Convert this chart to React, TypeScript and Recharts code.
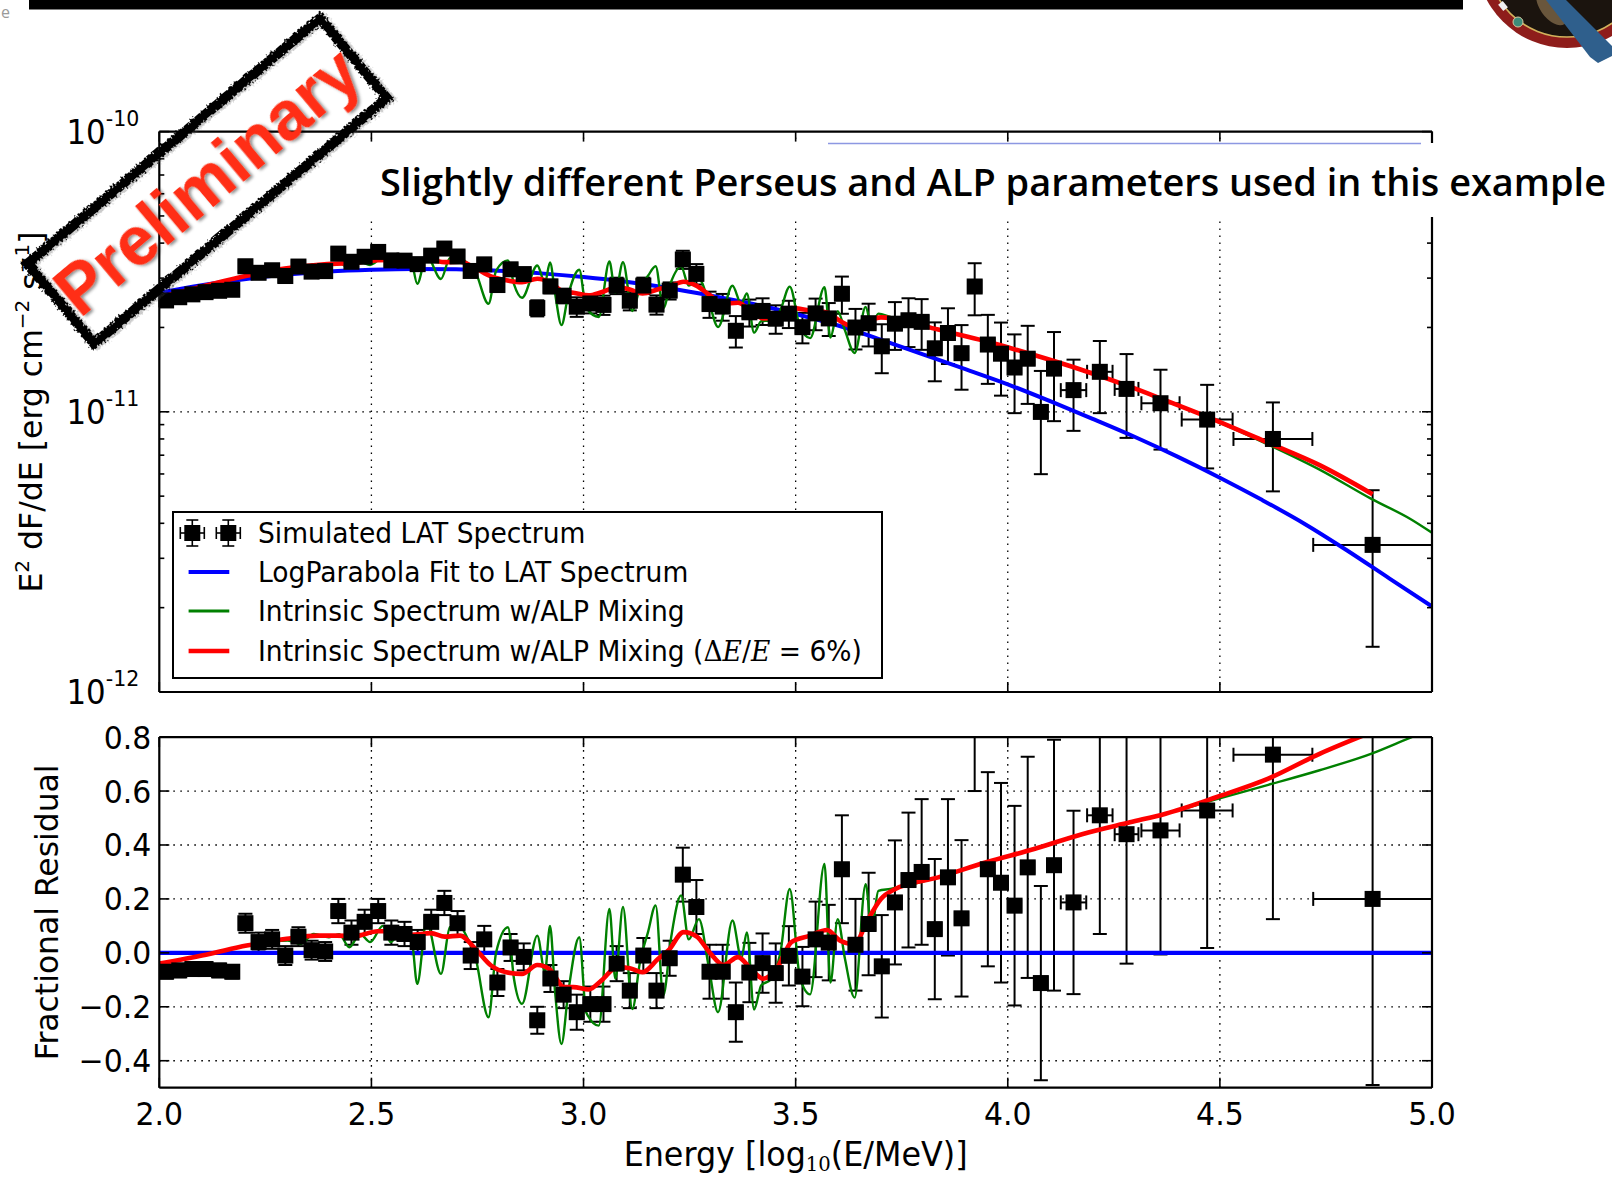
import React from 'react';
import {
  ComposedChart,
  Line,
  Scatter,
  XAxis,
  YAxis,
  ErrorBar,
  ReferenceLine,
  Legend,
} from 'recharts';

// ---------------------------------------------------------------------------
// Simulated LAT spectrum: bin centres in log10(E/MeV), half widths,
// E^2 dF/dE in units of 1e-11 erg cm^-2 s^-1 and fractional residuals.
// ---------------------------------------------------------------------------
const binEnergy = [
  2.016, 2.047, 2.078, 2.109, 2.141, 2.172, 2.203, 2.234, 2.266, 2.297,
  2.328, 2.359, 2.391, 2.422, 2.453, 2.484, 2.516, 2.547, 2.578, 2.609,
  2.641, 2.672, 2.703, 2.734, 2.766, 2.797, 2.828, 2.859, 2.891, 2.922,
  2.953, 2.984, 3.016, 3.047, 3.078, 3.109, 3.141, 3.172, 3.203, 3.234,
  3.266, 3.297, 3.328, 3.359, 3.391, 3.422, 3.453, 3.484, 3.516, 3.547,
  3.578, 3.609, 3.641, 3.672, 3.703, 3.734, 3.766, 3.797, 3.828, 3.859,
  3.891, 3.922, 3.953, 3.984, 4.016, 4.047, 4.078, 4.109, 4.155, 4.217,
  4.28, 4.36, 4.47, 4.625, 4.86,
];

const binHalfWidth = [
  0.0156, 0.0156, 0.0156, 0.0156, 0.0156, 0.0156, 0.0156, 0.0156, 0.0156, 0.0156,
  0.0156, 0.0156, 0.0156, 0.0156, 0.0156, 0.0156, 0.0156, 0.0156, 0.0156, 0.0156,
  0.0156, 0.0156, 0.0156, 0.0156, 0.0156, 0.0156, 0.0156, 0.0156, 0.0156, 0.0156,
  0.0156, 0.0156, 0.0156, 0.0156, 0.0156, 0.0156, 0.0156, 0.0156, 0.0156, 0.0156,
  0.0156, 0.0156, 0.0156, 0.0156, 0.0156, 0.0156, 0.0156, 0.0156, 0.0156, 0.0156,
  0.0156, 0.0156, 0.0156, 0.0156, 0.0156, 0.0156, 0.0156, 0.0156, 0.0156, 0.0156,
  0.0156, 0.0156, 0.0156, 0.0156, 0.0156, 0.0156, 0.0156, 0.0156, 0.03, 0.03,
  0.028, 0.045, 0.06, 0.093, 0.14,
];

const binFlux = [
  2.497, 2.564, 2.625, 2.673, 2.703, 2.726, 3.307, 3.134, 3.2, 3.052,
  3.299, 3.164, 3.178, 3.669, 3.431, 3.575, 3.72, 3.47, 3.463, 3.365,
  3.608, 3.825, 3.583, 3.182, 3.359, 2.834, 3.225, 3.101, 2.345, 2.803,
  2.593, 2.372, 2.435, 2.407, 2.82, 2.491, 2.822, 2.412, 2.706, 3.496,
  3.106, 2.424, 2.374, 1.946, 2.265, 2.291, 2.149, 2.24, 2.005, 2.245,
  2.154, 2.638, 1.999, 2.071, 1.713, 2.063, 2.122, 2.094, 1.685, 1.911,
  1.619, 2.8, 1.738, 1.612, 1.439, 1.547, 0.999, 1.426, 1.195, 1.389,
  1.207, 1.073, 0.938, 0.8, 0.335,
];

const binFluxErr = [
  0.07, 0.07, 0.07, 0.07, 0.07, 0.07, 0.105, 0.105, 0.105, 0.11,
  0.11, 0.11, 0.11, 0.145, 0.145, 0.145, 0.145, 0.145, 0.145, 0.145,
  0.145, 0.145, 0.145, 0.155, 0.155, 0.155, 0.155, 0.155, 0.155, 0.155,
  0.155, 0.19, 0.19, 0.19, 0.19, 0.19, 0.19, 0.19, 0.19, 0.26,
  0.26, 0.26, 0.26, 0.25, 0.25, 0.25, 0.25, 0.25, 0.25, 0.29,
  0.29, 0.4, 0.33, 0.36, 0.34, 0.4, 0.42, 0.43, 0.4, 0.43,
  0.42, 0.59, 0.48, 0.47, 0.45, 0.48, 0.4, 0.5, 0.34, 0.4,
  0.4, 0.34, 0.31, 0.28, 0.19,
];

const binResidual = [
  -0.07, -0.065, -0.06, -0.06, -0.065, -0.07, 0.11, 0.04, 0.05, -0.01,
  0.06, 0.01, 0.005, 0.155, 0.075, 0.115, 0.155, 0.075, 0.07, 0.04,
  0.115, 0.185, 0.11, -0.01, 0.05, -0.11, 0.02, -0.015, -0.25, -0.095,
  -0.155, -0.22, -0.19, -0.19, -0.04, -0.14, -0.01, -0.14, -0.02, 0.29,
  0.17, -0.07, -0.07, -0.22, -0.073, -0.038, -0.075, -0.011, -0.088, 0.05,
  0.038, 0.31, 0.03, 0.107, -0.05, 0.187, 0.27, 0.3, 0.088, 0.28,
  0.128, 1.03, 0.31, 0.26, 0.175, 0.317, -0.112, 0.325, 0.187, 0.51,
  0.44, 0.454, 0.528, 0.735, 0.2,
];

const binResidualErr = [
  0.025, 0.025, 0.025, 0.025, 0.025, 0.025, 0.035, 0.035, 0.035, 0.035,
  0.035, 0.035, 0.035, 0.045, 0.045, 0.045, 0.045, 0.045, 0.045, 0.045,
  0.045, 0.045, 0.045, 0.05, 0.05, 0.05, 0.05, 0.05, 0.05, 0.05,
  0.05, 0.065, 0.065, 0.065, 0.065, 0.065, 0.065, 0.065, 0.065, 0.1,
  0.1, 0.1, 0.1, 0.11, 0.11, 0.11, 0.11, 0.11, 0.11, 0.14,
  0.14, 0.2, 0.17, 0.19, 0.19, 0.23, 0.25, 0.27, 0.26, 0.29,
  0.29, 0.43, 0.36, 0.37, 0.37, 0.41, 0.36, 0.465, 0.34, 0.44,
  0.48, 0.46, 0.51, 0.61, 0.69,
];

// LogParabola fit to the LAT spectrum
const fitEnergy = [
  2.0, 2.1, 2.2, 2.3, 2.4, 2.5, 2.6, 2.7, 2.8, 2.9, 3.0,
  3.1, 3.2, 3.3, 3.4, 3.5, 3.6, 3.7, 3.8, 3.9, 4.0,
  4.1, 4.2, 4.3, 4.4, 4.5, 4.6, 4.7, 4.8, 4.9, 5.0,
];
const fitFlux = [
  2.661, 2.831, 2.972, 3.09, 3.17, 3.214, 3.236, 3.228, 3.184, 3.119, 3.027,
  2.911, 2.767, 2.6, 2.427, 2.234, 2.032, 1.811, 1.603, 1.419, 1.253,
  1.091, 0.944, 0.813, 0.692, 0.582, 0.484, 0.398, 0.32, 0.254, 0.202,
];
const fitResidualEnergy = [2.0, 5.0];
const fitResidual = [0, 0];

// Intrinsic spectrum with ALP mixing
const alpEnergy = [
  2.0, 2.1, 2.2, 2.303, 2.333, 2.364, 2.4, 2.424, 2.448, 2.473,
  2.497, 2.527, 2.545, 2.57, 2.594, 2.608, 2.63, 2.664, 2.685, 2.707,
  2.727, 2.745, 2.776, 2.794, 2.822, 2.836, 2.855, 2.891, 2.909, 2.921,
  2.933, 2.948, 2.964, 2.99, 3.006, 3.036, 3.061, 3.075, 3.093, 3.115,
  3.133, 3.152, 3.17, 3.188, 3.206, 3.23, 3.248, 3.272, 3.295, 3.317,
  3.351, 3.372, 3.385, 3.402, 3.419, 3.441, 3.464, 3.486, 3.51, 3.534,
  3.568, 3.582, 3.599, 3.616, 3.639, 3.665, 3.679, 3.695, 3.723, 3.75,
  3.836, 3.949, 4.062, 4.175, 4.288, 4.372, 4.493, 4.614, 4.735, 4.856,
  4.952, 5.0,
];
const alpFlux = [
  2.555, 2.803, 3.046, 3.234, 3.22, 3.362, 3.354, 3.4, 3.258, 3.426,
  3.342, 3.542, 3.353, 3.478, 3.423, 2.864, 3.605, 2.98, 3.536, 3.55,
  3.383, 3.157, 2.431, 3.193, 3.471, 2.858, 2.553, 3.326, 2.888, 3.411,
  2.64, 2.038, 2.616, 3.215, 2.356, 2.18, 3.44, 2.66, 3.416, 2.29,
  2.766, 3.057, 3.307, 2.344, 2.899, 3.297, 2.822, 2.979, 2.479, 2.007,
  2.817, 2.429, 2.644, 1.916, 2.106, 2.116, 2.308, 2.798, 2.014, 1.832,
  2.786, 1.84, 2.288, 1.957, 1.622, 2.367, 2.023, 2.241, 2.18, 2.124,
  1.965, 1.786, 1.594, 1.41, 1.229, 1.098, 0.925, 0.764, 0.622, 0.49,
  0.412, 0.37,
];
const alpResidual = [
  -0.04, -0.01, 0.025, 0.046, 0.033, 0.07, 0.058, 0.069, 0.021, 0.07,
  0.04, 0.1, 0.04, 0.077, 0.058, -0.115, 0.114, -0.078, 0.095, 0.1,
  0.052, -0.016, -0.239, 0.002, 0.095, -0.096, -0.189, 0.064, -0.072, 0.1,
  -0.146, -0.338, -0.146, 0.058, -0.22, -0.27, 0.163, -0.096, 0.17, -0.208,
  -0.035, 0.077, 0.176, -0.158, 0.052, 0.213, 0.05, 0.125, -0.05, -0.22,
  0.12, -0.02, 0.076, -0.21, -0.12, -0.1, 0.0, 0.237, -0.09, -0.154,
  0.33, -0.11, 0.125, -0.02, -0.166, 0.255, 0.09, 0.23, 0.237, 0.245,
  0.28, 0.336, 0.385, 0.44, 0.484, 0.516, 0.57, 0.623, 0.677, 0.738,
  0.8, 0.83,
];

// Same model folded with a 6% energy resolution
const smearedEnergy = [
  2.0, 2.11, 2.206, 2.3, 2.376, 2.418, 2.46, 2.515, 2.545, 2.594,
  2.64, 2.673, 2.709, 2.745, 2.782, 2.818, 2.855, 2.891, 2.921, 2.954,
  2.976, 3.012, 3.042, 3.079, 3.109, 3.139, 3.176, 3.2, 3.236, 3.267,
  3.297, 3.33, 3.364, 3.394, 3.424, 3.455, 3.49, 3.532, 3.574, 3.605,
  3.639, 3.667, 3.701, 3.735, 3.836, 3.949, 4.062, 4.175, 4.288, 4.372,
  4.493, 4.614, 4.735, 4.86,
];
const smearedFlux = [
  2.555, 2.824, 3.059, 3.251, 3.349, 3.38, 3.397, 3.479, 3.486, 3.453,
  3.472, 3.422, 3.435, 3.254, 3.042, 2.948, 2.902, 2.985, 2.905, 2.679,
  2.661, 2.603, 2.672, 2.782, 2.732, 2.646, 2.737, 2.792, 2.912, 2.814,
  2.611, 2.432, 2.449, 2.294, 2.153, 2.18, 2.344, 2.305, 2.261, 2.109,
  2.007, 2.097, 2.173, 2.145, 1.965, 1.786, 1.594, 1.41, 1.229, 1.098,
  0.929, 0.775, 0.645, 0.508,
];
const smearedResidual = [
  -0.04, -0.007, 0.027, 0.052, 0.064, 0.064, 0.062, 0.08, 0.08, 0.067,
  0.073, 0.06, 0.064, 0.015, -0.047, -0.072, -0.078, -0.045, -0.062, -0.127,
  -0.127, -0.136, -0.103, -0.053, -0.057, -0.072, -0.022, 0.009, 0.077, 0.06,
  0.002, -0.045, -0.016, -0.059, -0.096, -0.059, 0.04, 0.063, 0.085, 0.045,
  0.032, 0.113, 0.2, 0.237, 0.28, 0.336, 0.385, 0.44, 0.484, 0.516,
  0.578, 0.646, 0.738, 0.82,
];

// Axis ticks and labels
const energyTicks = [2.0, 2.5, 3.0, 3.5, 4.0, 4.5, 5.0];
const energyGrid = [2.5, 3.0, 3.5, 4.0, 4.5];
const fluxMajorTicks = [0.1, 1, 10];
const fluxExponents = ['-12', '-11', '-10'];
const fluxMinorTicks = [0.2, 0.3, 0.4, 0.5, 0.6, 0.7, 0.8, 0.9, 2, 3, 4, 5, 6, 7, 8, 9];
const fluxGrid = [1];
const residualTicks = [-0.4, -0.2, 0.0, 0.2, 0.4, 0.6, 0.8];
const residualGrid = [-0.4, -0.2, 0.0, 0.2, 0.4, 0.6];

const legendLabels = [
  'Simulated LAT Spectrum',
  'LogParabola Fit to LAT Spectrum',
  'Intrinsic Spectrum w/ALP Mixing',
  'Intrinsic Spectrum w/ALP Mixing (',
];

// ---------------------------------------------------------------------------
// tables built from the arrays above
// ---------------------------------------------------------------------------
const toSeries = (xs: number[], ys: number[]) => xs.map((x, i) => ({ x, y: ys[i] }));

const spectrumPoints = binEnergy.map((x, i) => ({
  x,
  y: binFlux[i],
  yErr: binFluxErr[i],
  xErr: binHalfWidth[i],
}));
const residualPoints = binEnergy.map((x, i) => ({
  x,
  y: binResidual[i],
  yErr: binResidualErr[i],
  xErr: binHalfWidth[i],
}));

const fitSeries = toSeries(fitEnergy, fitFlux);
const fitResidualSeries = toSeries(fitResidualEnergy, fitResidual);
const alpSeries = toSeries(alpEnergy, alpFlux);
const alpResidualSeries = toSeries(alpEnergy, alpResidual);
const smearedSeries = toSeries(smearedEnergy, smearedFlux);
const smearedResidualSeries = toSeries(smearedEnergy, smearedResidual);

const fluxTicks = [...fluxMajorTicks, ...fluxMinorTicks].sort((a, b) => a - b);

// ---------------------------------------------------------------------------
// styling and frame geometry
// ---------------------------------------------------------------------------
const SANS = '"DejaVu Sans", "Bitstream Vera Sans", sans-serif';
const SERIF = '"DejaVu Serif", serif';
const SX = 0.935; // figure text is slightly narrower than its height suggests
const BLUE = '#0000ff';
const GREEN = '#008000';
const RED = '#ff0000';
const AXIS_LINE = { stroke: '#000', strokeWidth: 2.2 };
const TICK_W = 1.6;
const GRID_DASH = '1.6 5.4';

const PLOT_LEFT = 159.3;
const PLOT_RIGHT = 1432;
const PLOT_RIGHT_GAP = 1612 - PLOT_RIGHT;
const LEFT_AXIS_W = 60;
const RIGHT_AXIS_W = 10;
const TOP_AXIS_H = 10;
const BOTTOM_AXIS_H = 20;

// residual panel plot box, in its own chart coordinates
const RES_TOP = 37.1; // page y 737.1
const RES_BOTTOM = 387.7; // page y 1087.7
const RES_CLIP = 'url(#residualPlotArea)';

const fmtResidual = (v: number) => (v < -1e-9 ? '\u2212' : '') + Math.abs(v).toFixed(1);

// ---------------------------------------------------------------------------
// axis ticks (inward ticks on all four sides)
// ---------------------------------------------------------------------------
function BottomTick(p: any) {
  const { x, y, payload, withLabel } = p;
  return (
    <g>
      <line x1={x} y1={y} x2={x} y2={y - 10} stroke="#000" strokeWidth={TICK_W} />
      {withLabel ? (
        <text
          transform={`translate(${x},${y + 37}) scale(${SX},1)`}
          textAnchor="middle"
          fontFamily={SANS}
          fontSize={32}
          fill="#000"
        >
          {Number(payload.value).toFixed(1)}
        </text>
      ) : null}
    </g>
  );
}

function TopTick(p: any) {
  const { x, y } = p;
  return <line x1={x} y1={y} x2={x} y2={y + 10} stroke="#000" strokeWidth={TICK_W} />;
}

function LeftLogTick(p: any) {
  const { x, y, payload } = p;
  const idx = fluxMajorTicks.indexOf(payload.value);
  const major = idx >= 0;
  return (
    <g>
      <line x1={x} y1={y} x2={x + (major ? 10 : 5)} y2={y} stroke="#000" strokeWidth={TICK_W} />
      {major ? (
        <text
          transform={`translate(${x - 20},${y + 12}) scale(${SX},1)`}
          textAnchor="end"
          fontFamily={SANS}
          fontSize={33}
          fill="#000"
        >
          10
          <tspan dy={-17.7} fontSize={22}>
            {fluxExponents[idx]}
          </tspan>
        </text>
      ) : null}
    </g>
  );
}

function RightLogTick(p: any) {
  const { x, y, payload } = p;
  const major = fluxMajorTicks.indexOf(payload.value) >= 0;
  return <line x1={x} y1={y} x2={x - (major ? 10 : 5)} y2={y} stroke="#000" strokeWidth={TICK_W} />;
}

function LeftResidualTick(p: any) {
  const { x, y, payload } = p;
  return (
    <g>
      <line x1={x} y1={y} x2={x + 10} y2={y} stroke="#000" strokeWidth={TICK_W} />
      <text
        transform={`translate(${x - 8},${y + 11.5}) scale(${SX},1)`}
        textAnchor="end"
        fontFamily={SANS}
        fontSize={32}
        fill="#000"
      >
        {fmtResidual(Number(payload.value))}
      </text>
    </g>
  );
}

function RightResidualTick(p: any) {
  const { x, y } = p;
  return <line x1={x} y1={y} x2={x - 10} y2={y} stroke="#000" strokeWidth={TICK_W} />;
}

const squareMarker = (p: any) => (
  <rect x={p.cx - 8} y={p.cy - 8} width={16} height={16} fill="#000" />
);
const clippedSquareMarker = (p: any) => (
  <rect x={p.cx - 8} y={p.cy - 8} width={16} height={16} fill="#000" clipPath={RES_CLIP} />
);

// ---------------------------------------------------------------------------
// legend box
// ---------------------------------------------------------------------------
function LegendMarker({ cx, cy }: { cx: number; cy: number }) {
  return (
    <g stroke="#000" strokeWidth={1.6}>
      <line x1={cx} y1={cy - 13} x2={cx} y2={cy + 13} />
      <line x1={cx - 6} y1={cy - 13} x2={cx + 6} y2={cy - 13} />
      <line x1={cx - 6} y1={cy + 13} x2={cx + 6} y2={cy + 13} />
      <line x1={cx - 12} y1={cy} x2={cx + 12} y2={cy} />
      <line x1={cx - 12} y1={cy - 6} x2={cx - 12} y2={cy + 6} />
      <line x1={cx + 12} y1={cy - 6} x2={cx + 12} y2={cy + 6} />
      <rect x={cx - 8} y={cy - 8} width={16} height={16} fill="#000" stroke="none" />
    </g>
  );
}

function LegendText({ y, children }: { y: number; children: React.ReactNode }) {
  return (
    <text
      transform={`translate(86,${y + 10}) scale(${SX},1)`}
      fontFamily={SANS}
      fontSize={28.4}
      fill="#000"
    >
      {children}
    </text>
  );
}

function LegendBox() {
  const rows = [22, 61, 100, 140];
  return (
    <svg width={711} height={168} style={{ display: 'block', overflow: 'visible' }}>
      <rect x={1} y={1} width={709} height={166} fill="#fff" stroke="#000" strokeWidth={2} />
      <LegendMarker cx={20.3} cy={rows[0]} />
      <LegendMarker cx={56.3} cy={rows[0]} />
      <line x1={16.6} y1={rows[1]} x2={57.3} y2={rows[1]} stroke={BLUE} strokeWidth={4} />
      <line x1={16.6} y1={rows[2]} x2={57.3} y2={rows[2]} stroke={GREEN} strokeWidth={3} />
      <line x1={16.6} y1={rows[3]} x2={57.3} y2={rows[3]} stroke={RED} strokeWidth={4.5} />
      <LegendText y={rows[0]}>{legendLabels[0]}</LegendText>
      <LegendText y={rows[1]}>{legendLabels[1]}</LegendText>
      <LegendText y={rows[2]}>{legendLabels[2]}</LegendText>
      <LegendText y={rows[3]}>
        {legendLabels[3]}
        <tspan fontFamily={SERIF}>{'\u0394'}</tspan>
        <tspan fontFamily={SERIF} fontStyle="italic">E</tspan>
        <tspan fontFamily={SERIF}>/</tspan>
        <tspan fontFamily={SERIF} fontStyle="italic">E</tspan>
        {' = 6%)'}
      </LegendText>
    </svg>
  );
}

// shared axis props for the energy axes of both panels
const energyAxisProps = {
  dataKey: 'x',
  type: 'number' as const,
  domain: [2, 5],
  ticks: energyTicks,
  interval: 0,
  allowDataOverflow: true,
  tickSize: 0,
  tickMargin: 0,
  tickLine: false,
  axisLine: AXIS_LINE,
};

// ---------------------------------------------------------------------------
// upper panel: E^2 dF/dE
// ---------------------------------------------------------------------------
function SpectrumPanel() {
  const plotTop = 131.6;
  const plotBottom = 692;
  const height = 720;
  const fluxAxisProps = {
    type: 'number' as const,
    scale: 'log' as const,
    domain: [0.1, 10],
    ticks: fluxTicks,
    interval: 0,
    allowDataOverflow: true,
    tickSize: 0,
    tickMargin: 0,
    tickLine: false,
    axisLine: AXIS_LINE,
  };
  return (
    <ComposedChart
      width={1612}
      height={height}
      margin={{
        top: plotTop - TOP_AXIS_H,
        right: PLOT_RIGHT_GAP - RIGHT_AXIS_W,
        bottom: height - plotBottom - BOTTOM_AXIS_H,
        left: PLOT_LEFT - LEFT_AXIS_W,
      }}
    >
      <XAxis {...energyAxisProps} height={BOTTOM_AXIS_H} tick={(p: any) => <BottomTick {...p} withLabel={false} />} />
      <XAxis {...energyAxisProps} xAxisId="top" orientation="top" height={TOP_AXIS_H} tick={(p: any) => <TopTick {...p} />} />
      <YAxis {...fluxAxisProps} dataKey="y" width={LEFT_AXIS_W} tick={(p: any) => <LeftLogTick {...p} />} />
      <YAxis {...fluxAxisProps} yAxisId="right" orientation="right" width={RIGHT_AXIS_W} tick={(p: any) => <RightLogTick {...p} />} />
      {energyGrid.map((v) => (
        <ReferenceLine key={`gx${v}`} x={v} stroke="#000" strokeWidth={1.3} strokeDasharray={GRID_DASH} />
      ))}
      {fluxGrid.map((v) => (
        <ReferenceLine key={`gy${v}`} y={v} stroke="#000" strokeWidth={1.3} strokeDasharray={GRID_DASH} />
      ))}
      <Scatter data={spectrumPoints} dataKey="y" shape={squareMarker} isAnimationActive={false}>
        <ErrorBar dataKey="yErr" direction="y" width={7} stroke="#000" strokeWidth={2} isAnimationActive={false} />
        <ErrorBar dataKey="xErr" direction="x" width={7} stroke="#000" strokeWidth={2} isAnimationActive={false} />
      </Scatter>
      <Line data={fitSeries} dataKey="y" type="monotone" stroke={BLUE} strokeWidth={4} dot={false} activeDot={false} isAnimationActive={false} />
      <Line data={alpSeries} dataKey="y" type="monotone" stroke={GREEN} strokeWidth={2.4} dot={false} activeDot={false} isAnimationActive={false} />
      <Line data={smearedSeries} dataKey="y" type="monotone" stroke={RED} strokeWidth={4.6} dot={false} activeDot={false} isAnimationActive={false} />
      <Legend
        layout="vertical"
        align="center"
        verticalAlign="middle"
        wrapperStyle={{ left: 171.7, top: 511, width: 711, height: 168 }}
        content={() => <LegendBox />}
      />
    </ComposedChart>
  );
}

// ---------------------------------------------------------------------------
// lower panel: fractional residual
// ---------------------------------------------------------------------------
function ResidualPanel() {
  const height = 477;
  const residualAxisProps = {
    type: 'number' as const,
    domain: [-0.5, 0.8],
    ticks: residualTicks,
    interval: 0,
    allowDataOverflow: true,
    tickSize: 0,
    tickMargin: 0,
    tickLine: false,
    axisLine: AXIS_LINE,
  };
  return (
    <ComposedChart
      width={1612}
      height={height}
      margin={{
        top: RES_TOP - TOP_AXIS_H,
        right: PLOT_RIGHT_GAP - RIGHT_AXIS_W,
        bottom: height - RES_BOTTOM - BOTTOM_AXIS_H,
        left: PLOT_LEFT - LEFT_AXIS_W,
      }}
    >
      <XAxis {...energyAxisProps} height={BOTTOM_AXIS_H} tick={(p: any) => <BottomTick {...p} withLabel />} />
      <XAxis {...energyAxisProps} xAxisId="top" orientation="top" height={TOP_AXIS_H} tick={(p: any) => <TopTick {...p} />} />
      <YAxis {...residualAxisProps} dataKey="y" width={LEFT_AXIS_W} tick={(p: any) => <LeftResidualTick {...p} />} />
      <YAxis {...residualAxisProps} yAxisId="right" orientation="right" width={RIGHT_AXIS_W} tick={(p: any) => <RightResidualTick {...p} />} />
      {energyGrid.map((v) => (
        <ReferenceLine key={`gx${v}`} x={v} stroke="#000" strokeWidth={1.3} strokeDasharray={GRID_DASH} />
      ))}
      {residualGrid.map((v) => (
        <ReferenceLine key={`gy${v}`} y={v} stroke="#000" strokeWidth={1.3} strokeDasharray={GRID_DASH} />
      ))}
      <Scatter data={residualPoints} dataKey="y" shape={clippedSquareMarker} isAnimationActive={false}>
        <ErrorBar dataKey="yErr" direction="y" width={7} stroke="#000" strokeWidth={2} clipPath={RES_CLIP} isAnimationActive={false} />
        <ErrorBar dataKey="xErr" direction="x" width={7} stroke="#000" strokeWidth={2} clipPath={RES_CLIP} isAnimationActive={false} />
      </Scatter>
      <Line data={fitResidualSeries} dataKey="y" type="linear" stroke={BLUE} strokeWidth={4.2} dot={false} activeDot={false} isAnimationActive={false} />
      <Line data={alpResidualSeries} dataKey="y" type="monotone" stroke={GREEN} strokeWidth={2.4} dot={false} activeDot={false} isAnimationActive={false} />
      <Line data={smearedResidualSeries} dataKey="y" type="monotone" stroke={RED} strokeWidth={4.6} dot={false} activeDot={false} isAnimationActive={false} />
    </ComposedChart>
  );
}

// clip region for residual error bars that run past the panel limits
function ResidualClipDefs() {
  return (
    <svg width={0} height={0} style={{ position: 'absolute', left: 0, top: 0 }}>
      <defs>
        <clipPath id="residualPlotArea" clipPathUnits="userSpaceOnUse">
          <rect x={PLOT_LEFT} y={RES_TOP} width={PLOT_RIGHT - PLOT_LEFT} height={RES_BOTTOM - RES_TOP} />
        </clipPath>
      </defs>
    </svg>
  );
}

// ---------------------------------------------------------------------------
// slide furniture: header bar, patch, title banner, axis titles, stamp
// ---------------------------------------------------------------------------
function SlideLayer() {
  return (
    <svg
      width={1612}
      height={1177}
      style={{ position: 'absolute', left: 0, top: 0, pointerEvents: 'none' }}
    >
      <defs>
        <filter id="stampRough" x="-20%" y="-40%" width="140%" height="180%">
          <feTurbulence type="fractalNoise" baseFrequency="0.5" numOctaves={3} seed={7} result="noise" />
          <feDisplacementMap in="SourceGraphic" in2="noise" scale={8} xChannelSelector="R" yChannelSelector="G" />
        </filter>
        <filter id="stampShadow" x="-10%" y="-30%" width="120%" height="160%">
          <feDropShadow dx={1.5} dy={2.5} stdDeviation={1.4} floodColor="#000" floodOpacity={0.45} />
        </filter>
      </defs>

      {/* header bar */}
      <rect x={29} y={0} width={1434} height={9.5} fill="#000" />
      <text x={1} y={18} fontSize={16} fill="#9a9a9a" fontFamily="Open Sans">e</text>

      {/* mission patch in the corner */}
      <g>
        <circle cx={1567} cy={-43} r={91} fill="#8e1d1b" />
        <circle cx={1567} cy={-43} r={80} fill="#1b140e" stroke="#d2b25c" strokeWidth={1.6} />
        <ellipse cx={1552} cy={6} rx={12} ry={22} fill="#b7976a" opacity={0.5} transform="rotate(-35 1552 6)" />
        <circle cx={1518} cy={22} r={5} fill="#3d8c7a" stroke="#d7c9a0" strokeWidth={1} />
        <rect x={1499} y={3} width={8} height={6} fill="#f0f0f0" transform="rotate(50 1503 6)" />
        <polygon points="1546,0 1566,0 1612,46 1612,56 1598,63 1590,57" fill="#2f5f8c" />
      </g>

      {/* title banner */}
      <rect x={360} y={143} width={1252} height={74} fill="#fff" />
      <line x1={828} y1={143.5} x2={1421} y2={143.5} stroke="#8d98e2" strokeWidth={1.5} />
      <text
        x={380}
        y={196}
        fontFamily='"Open Sans", "Noto Sans", sans-serif'
        fontWeight={600}
        fontSize={37}
        fill="#000"
        textLength={1226}
        lengthAdjust="spacingAndGlyphs"
      >
        Slightly different Perseus and ALP parameters used in this example
      </text>

      {/* axis titles */}
      <text transform="translate(42,412) rotate(-90)" textAnchor="middle" fontFamily={SANS} fontSize={31.5} fill="#000">
        E
        <tspan dy={-13} fontSize={20}>2</tspan>
        <tspan dy={13}> dF/dE [erg cm</tspan>
        <tspan dy={-13} fontSize={20}>{'\u22122'}</tspan>
        <tspan dy={13}> s</tspan>
        <tspan dy={-13} fontSize={20}>{'\u22121'}</tspan>
        <tspan dy={13}>]</tspan>
      </text>
      <text transform="translate(58,912.4) rotate(-90)" textAnchor="middle" fontFamily={SANS} fontSize={31.4} fill="#000">
        Fractional Residual
      </text>
      <text transform={`translate(795.6,1166) scale(${SX},1)`} textAnchor="middle" fontFamily={SANS} fontSize={34} fill="#000">
        Energy [log
        <tspan dy={5} fontFamily={SERIF} fontSize={21}>10</tspan>
        <tspan dy={-5}>(E/MeV)]</tspan>
      </text>

      {/* preliminary stamp */}
      <g transform="translate(207,181) rotate(-40)">
        <rect
          x={-191}
          y={-52}
          width={382}
          height={104}
          fill="none"
          stroke="#555"
          strokeWidth={9}
          opacity={0.3}
          transform="translate(2.5,3)"
          filter="url(#stampRough)"
        />
        <rect x={-191} y={-52} width={382} height={104} fill="none" stroke="#000" strokeWidth={10} filter="url(#stampRough)" />
        <text
          x={0}
          y={24}
          textAnchor="middle"
          fontFamily='"Liberation Sans", Arial, sans-serif'
          fontWeight={700}
          fontSize={70}
          fill="#ff2d12"
          textLength={372}
          lengthAdjust="spacingAndGlyphs"
          filter="url(#stampShadow)"
        >
          Preliminary
        </text>
      </g>
    </svg>
  );
}

export default function App() {
  return (
    <div
      style={{
        position: 'absolute',
        left: 0,
        top: 0,
        width: 1612,
        height: 1177,
        background: '#fff',
        overflow: 'hidden',
      }}
    >
      <ResidualClipDefs />
      <div style={{ position: 'absolute', left: 0, top: 0 }}>
        <SpectrumPanel />
      </div>
      <div style={{ position: 'absolute', left: 0, top: 700 }}>
        <ResidualPanel />
      </div>
      <SlideLayer />
    </div>
  );
}
